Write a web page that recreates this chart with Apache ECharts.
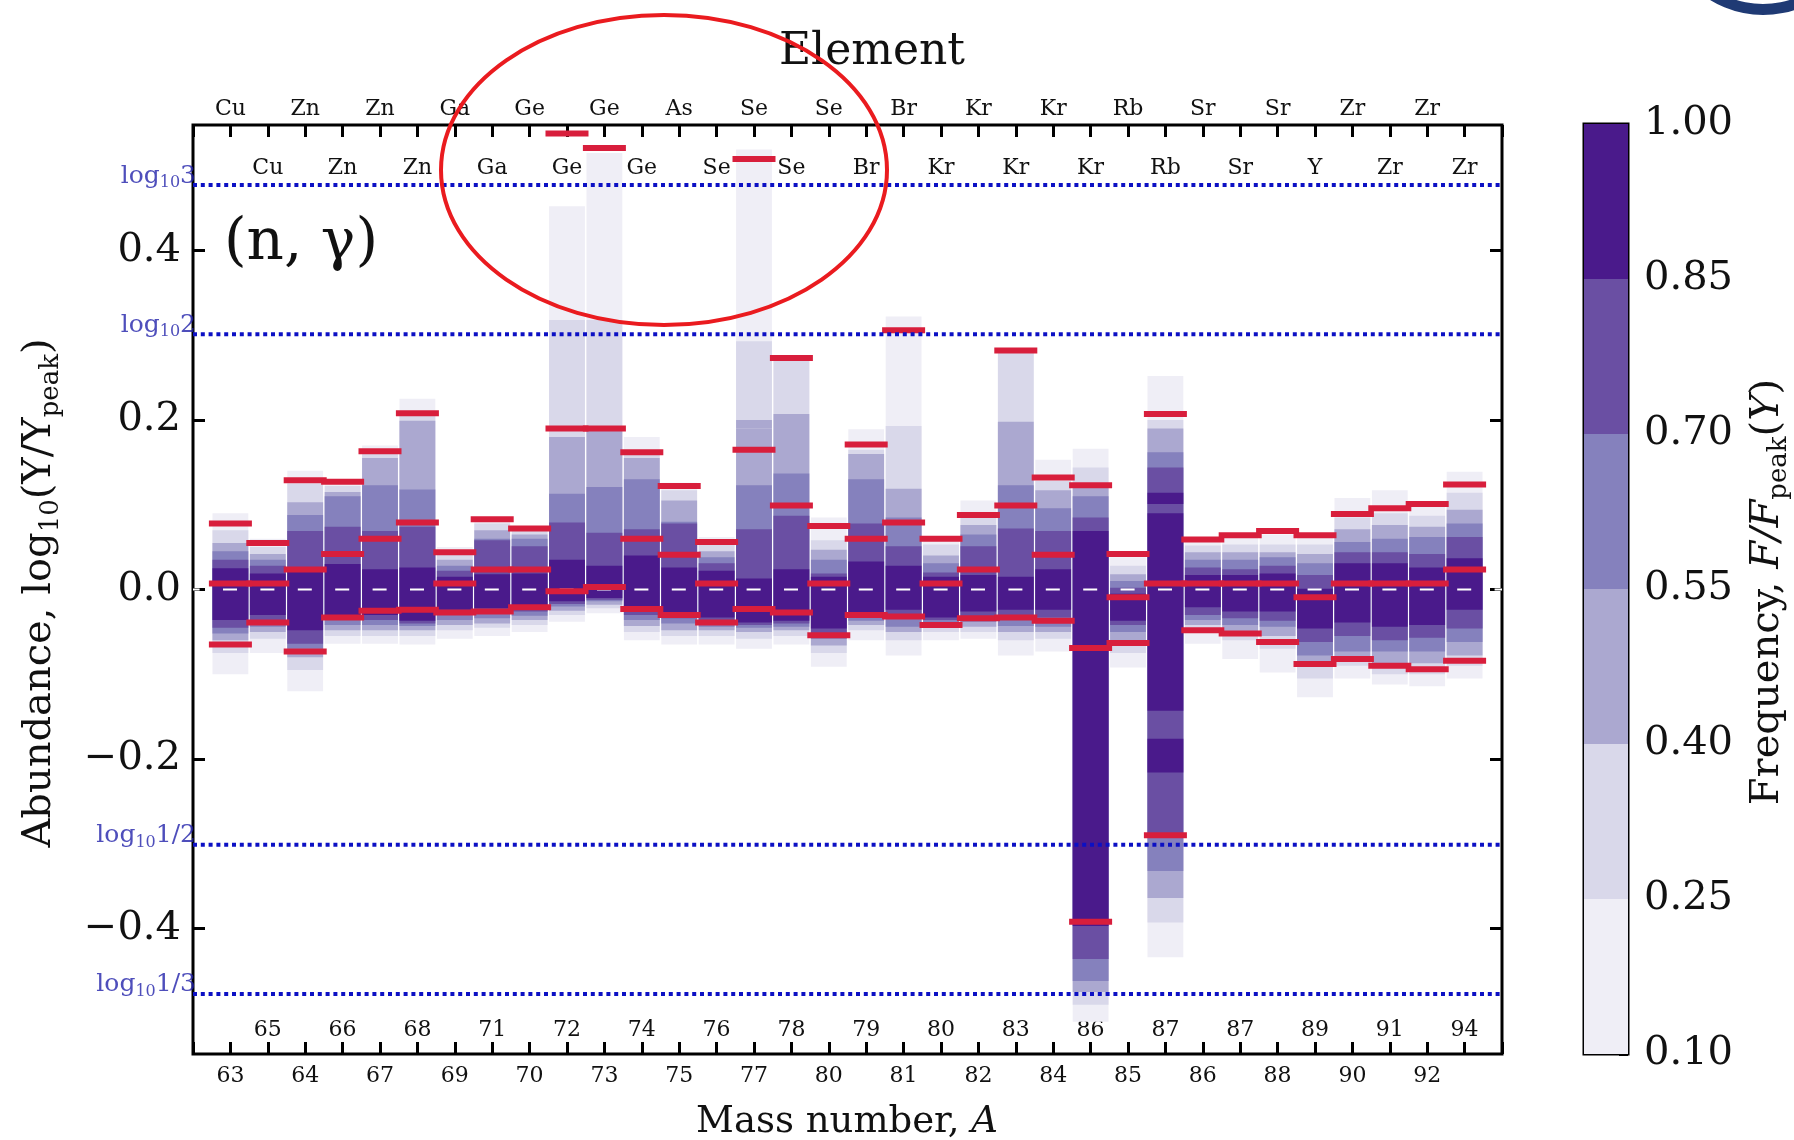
<!DOCTYPE html>
<html>
<head>
<meta charset="utf-8">
<script src="https://cdn.jsdelivr.net/npm/echarts@6/dist/echarts.min.js"></script>
<style>
html, body { margin: 0; padding: 0; background: #fff; }
#chart { width: 1794px; height: 1140px; }
</style>
</head>
<body>
<div id="chart"></div>
<script>
// Isotopes, left to right
const massNumbers = [63,65,64,66,67,68,69,71,70,72,73,74,75,76,77,78,80,79,81,80,82,83,84,86,85,87,86,87,88,89,90,91,92,94];
const elements = ['Cu','Cu','Zn','Zn','Zn','Zn','Ga','Ga','Ge','Ge','Ge','Ge','As','Se','Se','Se','Se','Br','Br','Kr','Kr','Kr','Kr','Kr','Rb','Rb','Sr','Sr','Sr','Y','Zr','Zr','Zr','Zr'];

// Frequency contour edges per isotope, outermost level (0.10) to innermost (0.85)
const bandTop = [
  [0.09, 0.07, 0.055, 0.045, 0.035, 0.025],
  [0.06, 0.05, 0.042, 0.035, 0.028, 0.019],
  [0.14, 0.125, 0.103, 0.088, 0.069, 0.022],
  [0.128, 0.122, 0.115, 0.11, 0.074, 0.030],
  [0.17, 0.16, 0.155, 0.123, 0.069, 0.024],
  [0.225, 0.205, 0.199, 0.118, 0.074, 0.026],
  [0.05, 0.042, 0.035, 0.028, 0.022, 0.015],
  [0.085, 0.078, 0.07, 0.06, 0.058, 0.018],
  [0.075, 0.07, 0.065, 0.06, 0.051, 0.019],
  [0.452, 0.318, 0.18, 0.113, 0.079, 0.035],
  [0.515, 0.318, 0.19, 0.121, 0.067, 0.028],
  [0.18, 0.16, 0.155, 0.13, 0.071, 0.04],
  [0.126, 0.117, 0.105, 0.08, 0.078, 0.026],
  [0.062, 0.053, 0.045, 0.038, 0.031, 0.022],
  [0.519, 0.293, 0.19, 0.123, 0.071, 0.013],
  [0.275, 0.27, 0.207, 0.128, 0.087, 0.024],
  [0.085, 0.058, 0.047, 0.035, 0.019, 0.015],
  [0.189, 0.165, 0.16, 0.13, 0.078, 0.033],
  [0.322, 0.193, 0.119, 0.085, 0.051, 0.028],
  [0.062, 0.053, 0.04, 0.031, 0.02, 0.015],
  [0.105, 0.087, 0.076, 0.065, 0.051, 0.017],
  [0.285, 0.279, 0.198, 0.123, 0.072, 0.015],
  [0.153, 0.128, 0.117, 0.096, 0.069, 0.024],
  [0.166, 0.144, 0.123, 0.11, 0.085, 0.069],
  [0.038, 0.028, 0.018, 0.01, 0.002, -0.005],
  [0.252, 0.2, 0.19, 0.162, 0.144, 0.09],
  [0.058, 0.052, 0.044, 0.035, 0.026, 0.017],
  [0.062, 0.053, 0.044, 0.035, 0.024, 0.017],
  [0.065, 0.053, 0.044, 0.038, 0.028, 0.019],
  [0.062, 0.053, 0.042, 0.031, 0.017, 0.001],
  [0.108, 0.085, 0.071, 0.056, 0.044, 0.031],
  [0.117, 0.09, 0.076, 0.06, 0.044, 0.031],
  [0.098, 0.087, 0.074, 0.062, 0.042, 0.026],
  [0.139, 0.114, 0.094, 0.078, 0.062, 0.037]
];
const bandBottom = [
  [-0.10, -0.075, -0.06, -0.052, -0.045, -0.036],
  [-0.075, -0.058, -0.05, -0.044, -0.036, -0.03],
  [-0.12, -0.095, -0.08, -0.07, -0.064, -0.048],
  [-0.064, -0.055, -0.048, -0.042, -0.036, -0.03],
  [-0.064, -0.055, -0.048, -0.042, -0.036, -0.03],
  [-0.065, -0.055, -0.048, -0.043, -0.04, -0.037],
  [-0.058, -0.048, -0.042, -0.036, -0.03, -0.024],
  [-0.055, -0.045, -0.04, -0.034, -0.028, -0.022],
  [-0.05, -0.042, -0.036, -0.031, -0.026, -0.021],
  [-0.038, -0.03, -0.025, -0.02, -0.017, -0.014],
  [-0.028, -0.022, -0.018, -0.014, -0.012, -0.01],
  [-0.06, -0.05, -0.043, -0.036, -0.03, -0.024],
  [-0.065, -0.055, -0.048, -0.04, -0.034, -0.028],
  [-0.065, -0.055, -0.048, -0.044, -0.038, -0.033],
  [-0.07, -0.058, -0.05, -0.045, -0.042, -0.039],
  [-0.065, -0.055, -0.048, -0.044, -0.04, -0.037],
  [-0.091, -0.075, -0.066, -0.058, -0.052, -0.046],
  [-0.06, -0.048, -0.042, -0.037, -0.032, -0.028],
  [-0.078, -0.06, -0.05, -0.044, -0.033, -0.024],
  [-0.06, -0.05, -0.044, -0.04, -0.036, -0.033],
  [-0.058, -0.05, -0.044, -0.038, -0.033, -0.026],
  [-0.078, -0.06, -0.05, -0.043, -0.035, -0.024],
  [-0.073, -0.058, -0.05, -0.044, -0.033, -0.024],
  [-0.51, -0.49, -0.475, -0.462, -0.436, -0.397],
  [-0.092, -0.075, -0.06, -0.05, -0.042, -0.037],
  [-0.434, -0.393, -0.364, -0.332, -0.293, -0.143],
  [-0.064, -0.05, -0.042, -0.036, -0.03, -0.021],
  [-0.082, -0.06, -0.05, -0.042, -0.034, -0.026],
  [-0.098, -0.07, -0.055, -0.044, -0.037, -0.026],
  [-0.127, -0.105, -0.09, -0.078, -0.062, -0.046],
  [-0.105, -0.09, -0.082, -0.073, -0.055, -0.039],
  [-0.112, -0.1, -0.088, -0.073, -0.06, -0.044],
  [-0.114, -0.1, -0.087, -0.073, -0.057, -0.042],
  [-0.105, -0.09, -0.078, -0.062, -0.046, -0.024]
];
// Isolated frequency islands: [isotope index, low, high, level]
const stripes = [
  [14, 0.19, 0.20, 2],
  [15, 0.128, 0.137, 3],
  [25, 0.101, 0.114, 5],
  [25, -0.216, -0.176, 5]
];

// Red markers per isotope
const redUpper  = [0.078, 0.055, 0.129, 0.127, 0.163, 0.208, 0.044, 0.083, 0.072, 0.538, 0.521, 0.162, 0.122, 0.056, 0.508, 0.273, 0.075, 0.171, 0.306, 0.06, 0.088, 0.282, 0.132, 0.123, 0.042, 0.207, 0.059, 0.064, 0.069, 0.064, 0.089, 0.096, 0.101, 0.124];
const redMiddle = [0.007, 0.007, 0.0235, 0.042, 0.06, 0.079, 0.007, 0.0235, 0.0235, 0.19, 0.19, 0.06, 0.041, 0.007, 0.165, 0.099, 0.007, 0.06, 0.079, 0.007, 0.0235, 0.099, 0.041, -0.069, -0.009, 0.007, 0.007, 0.007, 0.007, -0.009, 0.007, 0.007, 0.007, 0.0235];
const redLower  = [-0.065, -0.039, -0.073, -0.033, -0.025, -0.024, -0.027, -0.026, -0.021, -0.002, 0.003, -0.023, -0.03, -0.039, -0.023, -0.027, -0.054, -0.03, -0.032, -0.042, -0.034, -0.033, -0.037, -0.392, -0.063, -0.29, -0.048, -0.052, -0.062, -0.088, -0.082, -0.09, -0.094, -0.084];

// Axis ticks and reference levels
const yTicks = [-0.4, -0.2, 0, 0.2, 0.4];
const refFactors = ['3', '2', '1/2', '1/3'];
const refValues = [Math.log10(3), Math.log10(2), Math.log10(1 / 2), Math.log10(1 / 3)];
const colorbarTicks = ['0.10', '0.25', '0.40', '0.55', '0.70', '0.85', '1.00'];
const bandColors = ['#efeef6', '#d9d8ea', '#aba8d0', '#8581bd', '#6a4fa3', '#4a1a8b'];

const serif = 'DejaVu Serif';
const red = '#d81e3c';
const blue = '#0c10c4';

const bandData = [];
bandTop.forEach((tops, c) => {
  for (let k = 0; k < 6; k++) bandData.push([c, bandBottom[c][k], tops[k], k]);
});
stripes.forEach(s => bandData.push(s.slice()));

const redData = [];
[redUpper, redMiddle, redLower].forEach(arr => arr.forEach((v, c) => redData.push([c, v])));

function renderBand(params, api) {
  const c = api.value(0), lo = api.value(1), hi = api.value(2), k = api.value(3);
  const p1 = api.coord([c - 0.5, hi]);
  const p2 = api.coord([c + 0.5, lo]);
  return {
    type: 'rect',
    shape: { x: p1[0] + 0.8, y: p1[1], width: p2[0] - p1[0] - 1.6, height: p2[1] - p1[1] },
    style: { fill: bandColors[k] }
  };
}
function renderMarker(params, api) {
  const c = api.value(0), v = api.value(1);
  const p1 = api.coord([c - 0.575, v]);
  const p2 = api.coord([c + 0.575, v]);
  return {
    type: 'rect',
    shape: { x: p1[0], y: p1[1] - 3, width: p2[0] - p1[0], height: 6 },
    style: { fill: red }
  };
}
function renderColorbar(params, api) {
  const k = api.value(0);
  const p1 = api.coord([0, k + 1]);
  const p2 = api.coord([1, k]);
  return {
    type: 'rect',
    shape: { x: p1[0], y: p1[1], width: p2[0] - p1[0], height: p2[1] - p1[1] },
    style: { fill: bandColors[k] }
  };
}

const tickStyle = { show: true, inside: true, length: 12, lineStyle: { color: '#000', width: 3 } };
const noLine = { show: false, onZero: false };
const pickLabel = (list, parity) => v => {
  const i = Math.round(v);
  return (i >= 0 && i < list.length && i % 2 === parity) ? String(list[i]) : '';
};
const baseX = { type: 'value', min: -1, max: 34, interval: 1, gridIndex: 0, splitLine: { show: false }, axisLine: noLine };

const refSeries = [];
refValues.forEach((v, i) => {
  refSeries.push({
    type: 'line', xAxisIndex: 0, yAxisIndex: 0, z: 6, silent: true,
    symbol: 'none', data: [[-1, v], [34, v]],
    lineStyle: { color: blue, width: 4, type: [4, 3.8] }
  });
  refSeries.push({
    type: 'scatter', xAxisIndex: 0, yAxisIndex: 0, z: 7, silent: true, clip: false,
    symbolSize: 0, data: [[-1, v]],
    label: {
      show: true, position: 'left', distance: 0, offset: [3, -9],
      formatter: '{a|log}{b|10}{a|' + refFactors[i] + '}',
      rich: {
        a: { fontFamily: serif, fontSize: 25, color: '#2222aa', lineHeight: 30 },
        b: { fontFamily: serif, fontSize: 16, color: '#2222aa', lineHeight: 14, verticalAlign: 'bottom' }
      }
    }
  });
});

const option = {
  animation: false,
  grid: [
    { left: 193, top: 125, width: 1309, height: 929, show: true, borderColor: '#000', borderWidth: 3 },
    { left: 1584, top: 124, width: 44, height: 930, show: true, borderColor: '#000', borderWidth: 3 }
  ],
  xAxis: [
    Object.assign({}, baseX, {
      position: 'bottom', axisTick: tickStyle,
      axisLabel: { formatter: pickLabel(massNumbers, 0), margin: 11, fontFamily: serif, fontSize: 22, color: '#111' }
    }),
    Object.assign({}, baseX, {
      position: 'bottom', axisTick: { show: false },
      axisLabel: { inside: true, formatter: pickLabel(massNumbers, 1), margin: 13, fontFamily: serif, fontSize: 22, color: '#111' }
    }),
    Object.assign({}, baseX, {
      position: 'top', axisTick: tickStyle,
      axisLabel: { formatter: pickLabel(elements, 0), margin: 5, fontFamily: serif, fontSize: 22, color: '#111' }
    }),
    Object.assign({}, baseX, {
      position: 'top', axisTick: { show: false },
      axisLabel: { inside: true, formatter: pickLabel(elements, 1), margin: 32, fontFamily: serif, fontSize: 22, color: '#111' }
    }),
    { type: 'value', gridIndex: 1, min: 0, max: 1, show: false }
  ],
  yAxis: [
    {
      type: 'value', gridIndex: 0, position: 'left', min: -0.548, max: 0.548,
      splitLine: { show: false }, axisLine: noLine,
      axisTick: Object.assign({ customValues: yTicks }, tickStyle),
      axisLabel: {
        customValues: yTicks, margin: 12, fontFamily: serif, fontSize: 40, color: '#111',
        formatter: v => (v < -1e-9 ? '\u2212' : '') + Math.abs(v).toFixed(1)
      }
    },
    {
      type: 'value', gridIndex: 0, position: 'right', min: -0.548, max: 0.548,
      splitLine: { show: false }, axisLine: noLine,
      axisTick: Object.assign({ customValues: yTicks }, tickStyle),
      axisLabel: { show: false }
    },
    {
      type: 'value', gridIndex: 1, position: 'right', min: 0, max: 6, interval: 1,
      splitLine: { show: false }, axisLine: noLine,
      axisTick: { show: true, inside: true, length: 9, lineStyle: { color: '#000', width: 3 } },
      axisLabel: { margin: 16, fontFamily: serif, fontSize: 40, color: '#111', formatter: v => colorbarTicks[Math.round(v)] }
    }
  ],
  series: [
    {
      type: 'custom', name: 'frequency', xAxisIndex: 0, yAxisIndex: 0, z: 2, silent: true,
      renderItem: renderBand, data: bandData,
      dimensions: ['col', 'lo', 'hi', 'level'], encode: { x: 0, y: [1, 2] }
    },
    {
      type: 'line', xAxisIndex: 0, yAxisIndex: 0, z: 3, silent: true, symbol: 'none',
      data: [[-1, 0], [34, 0]],
      lineStyle: { color: '#ffffff', width: 2, type: [14, 23.4], dashOffset: 7.4 }
    },
    {
      type: 'custom', name: 'markers', xAxisIndex: 0, yAxisIndex: 0, z: 4, silent: true,
      renderItem: renderMarker, data: redData, encode: { x: 0, y: 1 }
    },
    ...refSeries,
    {
      type: 'custom', name: 'colorbar', xAxisIndex: 4, yAxisIndex: 2, z: 2, silent: true,
      renderItem: renderColorbar, data: [[0], [1], [2], [3], [4], [5]], encode: { y: 0 }
    }
  ],
  graphic: [
    {
      type: 'text', x: 872, y: 53, z: 10,
      style: { text: 'Element', fontFamily: serif, fontSize: 44, fill: '#111', align: 'center', verticalAlign: 'middle' }
    },
    {
      type: 'text', x: 847, y: 1122, z: 10,
      style: {
        text: '{r|Mass number, }{i|A}', align: 'center', verticalAlign: 'middle',
        rich: {
          r: { fontFamily: serif, fontSize: 37, fill: '#111' },
          i: { fontFamily: serif, fontSize: 37, fontStyle: 'italic', fill: '#111' }
        }
      }
    },
    {
      type: 'text', x: 40, y: 593, rotation: Math.PI / 2, z: 10,
      style: {
        text: '{r|Abundance, log}{s|10}{r|(Y/Y}{s|peak}{r|)}', align: 'center', verticalAlign: 'middle',
        rich: {
          r: { fontFamily: serif, fontSize: 40, fill: '#111', lineHeight: 48 },
          s: { fontFamily: serif, fontSize: 26, fill: '#111', lineHeight: 22, verticalAlign: 'bottom' }
        }
      }
    },
    {
      type: 'text', x: 1768, y: 592, rotation: Math.PI / 2, z: 10,
      style: {
        text: '{r|Frequency, }{i|F/F}{s|peak}{r|(}{i|Y}{r|)}', align: 'center', verticalAlign: 'middle',
        rich: {
          r: { fontFamily: serif, fontSize: 40, fill: '#111', lineHeight: 48 },
          i: { fontFamily: serif, fontSize: 40, fontStyle: 'italic', fill: '#111', lineHeight: 48 },
          s: { fontFamily: serif, fontSize: 26, fill: '#111', lineHeight: 22, verticalAlign: 'bottom' }
        }
      }
    },
    {
      type: 'text', x: 301, y: 244, z: 10,
      style: { text: '(n, \u03b3)', fontFamily: serif, fontSize: 58, fill: '#111', align: 'center', verticalAlign: 'middle' }
    },
    {
      type: 'ellipse', z: 20, silent: true,
      shape: { cx: 664, cy: 170, rx: 223, ry: 155 },
      style: { fill: 'none', stroke: '#ea1b1f', lineWidth: 4 }
    },
    {
      type: 'ring', z: 10, silent: true,
      shape: { cx: 1763, cy: -86, r: 101, r0: 90 },
      style: { fill: '#1f3a74' }
    }
  ]
};

const chart = echarts.init(document.getElementById('chart'), null, { renderer: 'canvas' });
chart.setOption(option);
</script>
</body>
</html>
